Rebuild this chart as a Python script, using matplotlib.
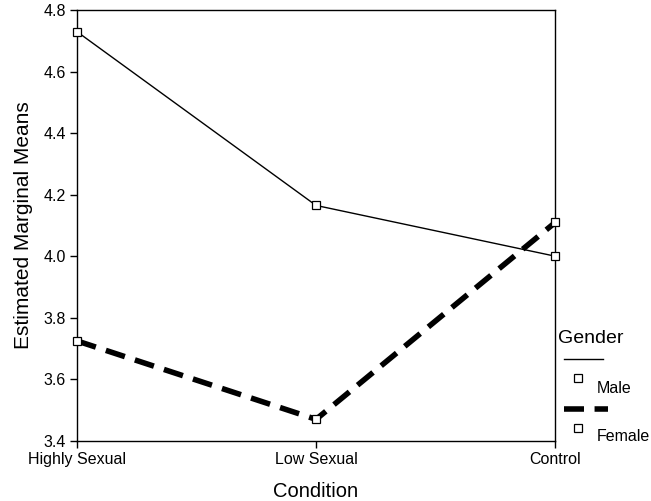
import matplotlib
matplotlib.use("Agg")
import matplotlib.pyplot as plt
from matplotlib.lines import Line2D

plt.rcParams["font.family"] = ["Liberation Sans", "DejaVu Sans"]

# ── Data ──────────────────────────────────────────────────────────────────────
conditions = ["Highly Sexual", "Low Sexual", "Control"]
male = [4.73, 4.165, 4.0]
female = [3.725, 3.47, 4.11]
y_ticks = [3.4, 3.6, 3.8, 4.0, 4.2, 4.4, 4.6, 4.8]

# ── Plot ──────────────────────────────────────────────────────────────────────
fig = plt.figure(figsize=(6.51, 5.01), dpi=100)
ax = fig.add_axes([0.118, 0.12, 0.735, 0.86])

x = range(len(conditions))
ax.plot(x, male, color="black", linewidth=1.0, zorder=2)
ax.plot(x, female, color="black", linewidth=4.0, dashes=(3.6, 1.9), zorder=2)
for vals in (male, female):
    ax.plot(x, vals, linestyle="none", marker="s", markersize=6.3,
            markerfacecolor="white", markeredgecolor="black",
            markeredgewidth=0.9, zorder=3, clip_on=False)

ax.set_xlim(0, len(conditions) - 1)
ax.set_ylim(3.4, 4.8)
ax.set_xticks(list(x))
ax.set_xticklabels(conditions)
ax.set_yticks(y_ticks)
ax.set_yticklabels([f"{v:.1f}" for v in y_ticks])
ax.tick_params(direction="out", length=5, width=1, labelsize=11.5, pad=3)
for s in ax.spines.values():
    s.set_linewidth(1.0)
ax.set_xlabel("Condition", fontsize=14.5, labelpad=11)
ax.set_ylabel("Estimated Marginal Means", fontsize=15, labelpad=7)

# ── Legend (outside, right) ───────────────────────────────────────────────────
fig.text(0.857, 0.325, "Gender", fontsize=14, ha="left", va="center")
fig.add_artist(Line2D([0.867, 0.927], [0.283, 0.283], color="black",
                      linewidth=1.0))
fig.add_artist(Line2D([0.888], [0.245], marker="s", markersize=6.3,
                      markerfacecolor="white", markeredgecolor="black",
                      markeredgewidth=0.9))
fig.text(0.917, 0.225, "Male", fontsize=11.5, ha="left", va="center")
fig.add_artist(Line2D([0.867, 0.934], [0.183, 0.183], color="black",
                      linewidth=4.0, dashes=(3.6, 1.9)))
fig.add_artist(Line2D([0.888], [0.146], marker="s", markersize=6.3,
                      markerfacecolor="white", markeredgecolor="black",
                      markeredgewidth=0.9))
fig.text(0.917, 0.129, "Female", fontsize=11.5, ha="left", va="center")

fig.savefig("out.png", dpi=100)
plt.close(fig)
